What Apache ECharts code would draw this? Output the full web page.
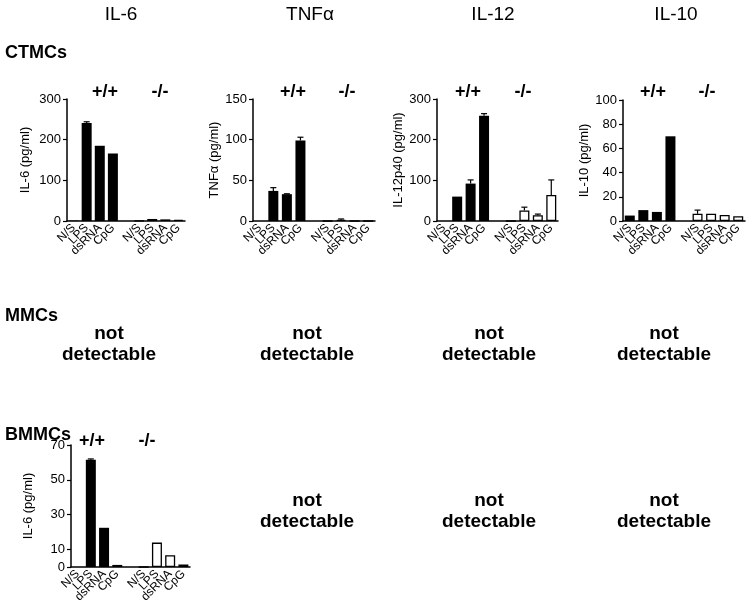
<!DOCTYPE html>
<html>
<head>
<meta charset="utf-8">
<script src="https://cdn.jsdelivr.net/npm/echarts@6/dist/echarts.min.js"></script>
<style>
html,body{margin:0;padding:0;background:#fff;}
#c{width:752px;height:615px;}
</style>
</head>
<body>
<div id="c"></div>
<script>
// ---- data ----
const conditions = ['N/S', 'LPS', 'dsRNA', 'CpG'];
const genotypes = ['+/+', '-/-'];
const cytokineHeaders = ['IL-6', 'TNFα', 'IL-12', 'IL-10'];
const cellTypes = ['CTMCs', 'MMCs', 'BMMCs'];

// CTMCs
const ctmcIL6WT = [1, 241, 185, 166];
const ctmcIL6WTErr = [0, 3, 0, 0];
const ctmcIL6KO = [1, 5, 4, 3];
const ctmcIL6KOErr = [0, 0, 0, 0];

const ctmcTNFWT = [0, 37, 33, 99];
const ctmcTNFWTErr = [0, 4, 0.5, 4];
const ctmcTNFKO = [0, 1.5, 0, 0];
const ctmcTNFKOErr = [0, 1, 0, 0];

const ctmcIL12WT = [0, 60, 92, 259];
const ctmcIL12WTErr = [0, 0, 9, 5];
const ctmcIL12KO = [0, 26, 14, 64];
const ctmcIL12KOErr = [0, 8, 3, 37];

const ctmcIL10WT = [4.5, 9, 7.5, 70];
const ctmcIL10WTErr = [0, 0, 0, 0];
const ctmcIL10KO = [6, 6, 5, 4];
const ctmcIL10KOErr = [3, 0, 0, 0];

// BMMCs
const bmmcIL6WT = [0, 61.5, 22.5, 1.2];
const bmmcIL6WTErr = [0, 0.5, 0, 0];
const bmmcIL6KO = [0, 14, 6.8, 1.5];
const bmmcIL6KOErr = [0, 0, 0, 0];

// axis tick labels
const ticksIL6 = [0, 100, 200, 300];
const ticksTNF = [0, 50, 100, 150];
const ticksIL12 = [0, 100, 200, 300];
const ticksIL10 = [0, 20, 40, 60, 80, 100];
const ticksBmmcIL6 = [0, 10, 30, 50, 70];

const yNames = ['IL-6 (pg/ml)', 'TNFα (pg/ml)', 'IL-12p40 (pg/ml)', 'IL-10 (pg/ml)', 'IL-6 (pg/ml)'];
const notDetectable = 'not\ndetectable';

// ---- build ----
const FONT = "'Liberation Sans', Arial, sans-serif";
const GAP = 'gap';
const cats = [];
conditions.forEach(c => cats.push('wt|' + c));
cats.push(GAP);
conditions.forEach(c => cats.push('ko|' + c));

const panels = [
  {grid: {left: 67, top: 99, width: 118, height: 122}, ticks: ticksIL6, wt: ctmcIL6WT, wtE: ctmcIL6WTErr, ko: ctmcIL6KO, koE: ctmcIL6KOErr, name: yNames[0], nameGap: 35},
  {grid: {left: 253, top: 99, width: 122, height: 122}, ticks: ticksTNF, wt: ctmcTNFWT, wtE: ctmcTNFWTErr, ko: ctmcTNFKO, koE: ctmcTNFKOErr, name: yNames[1], nameGap: 31},
  {grid: {left: 437, top: 99, width: 121, height: 122}, ticks: ticksIL12, wt: ctmcIL12WT, wtE: ctmcIL12WTErr, ko: ctmcIL12KO, koE: ctmcIL12KOErr, name: yNames[2], nameGap: 24},
  {grid: {left: 623, top: 100, width: 122, height: 121}, ticks: ticksIL10, wt: ctmcIL10WT, wtE: ctmcIL10WTErr, ko: ctmcIL10KO, koE: ctmcIL10KOErr, name: yNames[3], nameGap: 31},
  {grid: {left: 71, top: 445, width: 119, height: 122}, ticks: ticksBmmcIL6, wt: bmmcIL6WT, wtE: bmmcIL6WTErr, ko: bmmcIL6KO, koE: bmmcIL6KOErr, name: yNames[4], nameGap: 36}
];

const grids = [], xAxes = [], yAxes = [], series = [];
panels.forEach((p, i) => {
  grids.push(Object.assign({outerBoundsMode: 'none', containLabel: false}, p.grid));
  xAxes.push({
    type: 'category', gridIndex: i, data: cats,
    axisLine: {lineStyle: {color: '#000', width: 1.5}},
    axisTick: {alignWithLabel: true, length: 4, lineStyle: {color: '#000', width: 1.2},
      interval: (idx, v) => v !== GAP},
    axisLabel: {interval: 0, rotate: 45, margin: 5, color: '#000', fontFamily: FONT, fontSize: 12,
      formatter: v => v === GAP ? '' : v.split('|')[1]},
    splitLine: {show: false}
  });
  const mn = p.ticks[0], mx = p.ticks[p.ticks.length - 1];
  const y = {
    type: 'value', gridIndex: i, min: mn, max: mx,
    name: p.name, nameLocation: 'middle', nameRotate: 90, nameGap: p.nameGap,
    nameTextStyle: {color: '#000', fontFamily: FONT, fontSize: 13},
    axisLine: {show: true, lineStyle: {color: '#000', width: 1.5}},
    axisTick: {show: true, length: 4, lineStyle: {color: '#000', width: 1.2}, customValues: p.ticks},
    axisLabel: {color: '#000', fontFamily: FONT, fontSize: 13, margin: 6, customValues: p.ticks},
    splitLine: {show: false}
  };
  yAxes.push(y);

  const barData = [];
  const errData = [];
  p.wt.forEach((v, k) => {
    barData.push({value: v, itemStyle: {color: '#000', borderColor: '#000', borderWidth: 0}});
    errData.push([k, v, p.wtE[k]]);
  });
  barData.push('-');
  p.ko.forEach((v, k) => {
    barData.push({value: v, itemStyle: {color: '#fff', borderColor: '#000', borderWidth: 1.3}});
    errData.push([k + conditions.length + 1, v, p.koE[k]]);
  });
  series.push({
    type: 'bar', xAxisIndex: i, yAxisIndex: i, data: barData, barWidth: 10,
    silent: true, animation: false
  });
  series.push({
    type: 'custom', xAxisIndex: i, yAxisIndex: i, data: errData, animation: false, silent: true,
    renderItem: (params, api) => {
      const e = api.value(2);
      if (!e) return null;
      const base = api.coord([api.value(0), api.value(1)]);
      const top = api.coord([api.value(0), api.value(1) + e]);
      return {
        type: 'group',
        children: [
          {type: 'line', shape: {x1: base[0], y1: base[1], x2: top[0], y2: top[1]}, style: {stroke: '#000', lineWidth: 1.2}},
          {type: 'line', shape: {x1: top[0] - 3, y1: top[1], x2: top[0] + 3, y2: top[1]}, style: {stroke: '#000', lineWidth: 1.2}}
        ]
      };
    }
  });
});

function txt(s, x, y, size, bold) {
  return {type: 'text', silent: true, style: {
    text: s, x: x, y: y, fill: '#000',
    font: (bold ? 'bold ' : '') + size + 'px ' + FONT,
    textAlign: 'center', textVerticalAlign: 'middle', align: 'center', verticalAlign: 'middle',
    lineHeight: 21
  }};
}
function leftTxt(s, x, y, size) {
  const t = txt(s, x, y, size, true);
  t.style.textAlign = 'left'; t.style.align = 'left';
  return t;
}

const graphics = [];
const headerX = [121, 310, 493, 676];
cytokineHeaders.forEach((h, i) => graphics.push(txt(h, headerX[i], 15, 19, false)));
graphics.push(leftTxt(cellTypes[0], 5, 53, 18));
graphics.push(leftTxt(cellTypes[1], 5, 316, 18));
graphics.push(leftTxt(cellTypes[2], 5, 435, 18));

const gtPos = [[105, 160, 92], [293, 347, 92], [468, 523, 92], [653, 707, 92], [92, 147, 441]];
gtPos.forEach(p => {
  graphics.push(txt(genotypes[0], p[0], p[2], 18, true));
  graphics.push(txt(genotypes[1], p[1], p[2], 18, true));
});

[109, 307, 489, 664].forEach(x => graphics.push(txt(notDetectable, x, 344, 19, true)));
[307, 489, 664].forEach(x => graphics.push(txt(notDetectable, x, 511, 19, true)));

const chart = echarts.init(document.getElementById('c'), null, {renderer: 'canvas'});
chart.setOption({
  animation: false,
  backgroundColor: '#fff',
  grid: grids, xAxis: xAxes, yAxis: yAxes, series: series,
  graphic: graphics
});
</script>
</body>
</html>
